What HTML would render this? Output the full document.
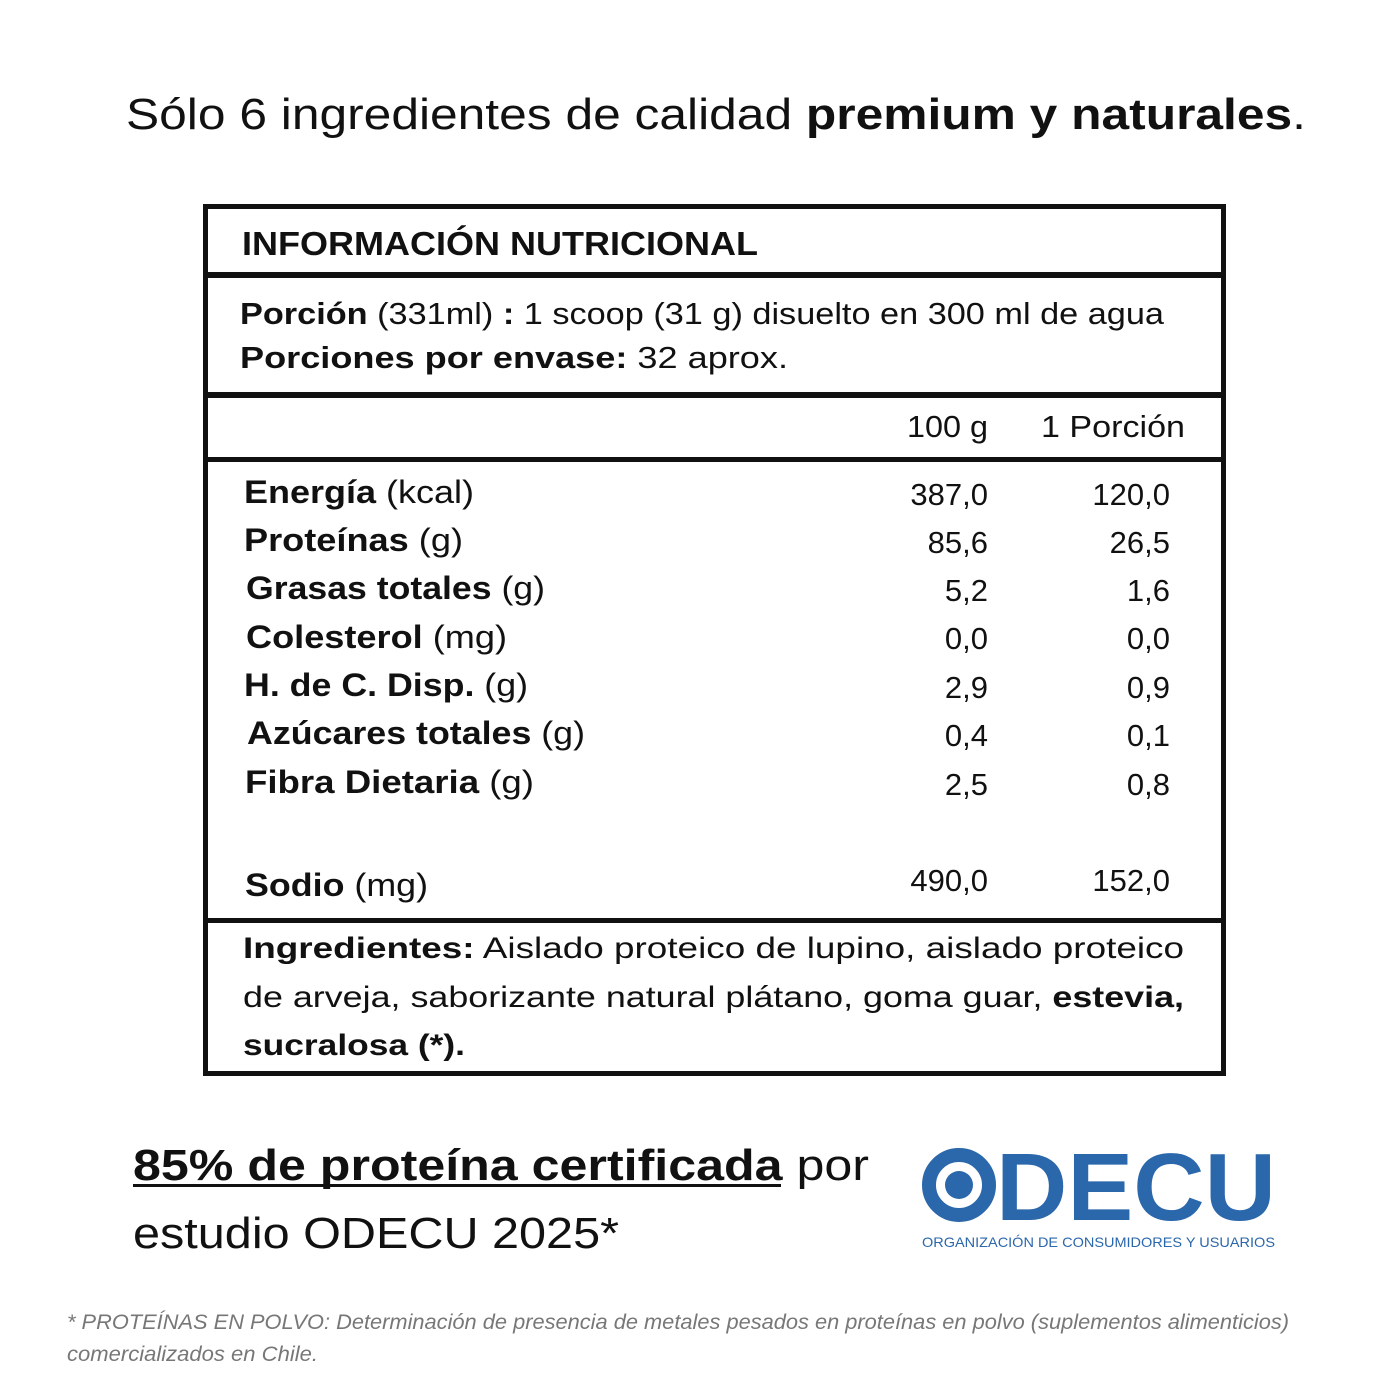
<!DOCTYPE html>
<html><head><meta charset="utf-8"><style>
html,body{margin:0;padding:0;background:#fff;}
svg{display:block}
text{font-family:"Liberation Sans",sans-serif;}
</style></head><body>
<svg width="1400" height="1400" viewBox="0 0 1400 1400" xmlns="http://www.w3.org/2000/svg">
<g fill="#111">
<text x="126" y="129" font-size="44" textLength="1180" lengthAdjust="spacingAndGlyphs">Sólo 6 ingredientes de calidad <tspan font-weight="bold">premium y naturales</tspan>.</text>

<rect x="203" y="204" width="1023" height="5"/>
<rect x="203" y="204" width="5" height="872"/>
<rect x="1221" y="204" width="5" height="872"/>
<rect x="203" y="1071" width="1023" height="5"/>
<rect x="203" y="272" width="1023" height="6"/>
<rect x="203" y="392" width="1023" height="6"/>
<rect x="203" y="457" width="1023" height="5"/>
<rect x="203" y="918" width="1023" height="5"/>

<text x="242" y="255" font-size="33" font-weight="bold" textLength="516" lengthAdjust="spacingAndGlyphs">INFORMACIÓN NUTRICIONAL</text>
<text x="240" y="324" font-size="31" textLength="924" lengthAdjust="spacingAndGlyphs"><tspan font-weight="bold">Porción</tspan> (331ml) <tspan font-weight="bold">:</tspan> 1 scoop (31 g) disuelto en 300 ml de agua</text>
<text x="240" y="368" font-size="31" textLength="548" lengthAdjust="spacingAndGlyphs"><tspan font-weight="bold">Porciones por envase:</tspan>  32 aprox.</text>
<text x="907" y="437" font-size="31" textLength="81" lengthAdjust="spacingAndGlyphs">100 g</text>
<text x="1041" y="437" font-size="31" textLength="144" lengthAdjust="spacingAndGlyphs">1 Porción</text>

<g font-size="32">
<text x="244" y="503" textLength="230" lengthAdjust="spacingAndGlyphs"><tspan font-weight="bold">Energía</tspan> (kcal)</text>
<text x="244" y="551" textLength="219" lengthAdjust="spacingAndGlyphs"><tspan font-weight="bold">Proteínas</tspan> (g)</text>
<text x="246" y="599" textLength="299" lengthAdjust="spacingAndGlyphs"><tspan font-weight="bold">Grasas totales</tspan> (g)</text>
<text x="246" y="648" textLength="261" lengthAdjust="spacingAndGlyphs"><tspan font-weight="bold">Colesterol</tspan> (mg)</text>
<text x="244" y="696" textLength="284" lengthAdjust="spacingAndGlyphs"><tspan font-weight="bold">H. de C. Disp.</tspan> (g)</text>
<text x="247" y="744" textLength="338" lengthAdjust="spacingAndGlyphs"><tspan font-weight="bold">Azúcares totales</tspan> (g)</text>
<text x="245" y="793" textLength="289" lengthAdjust="spacingAndGlyphs"><tspan font-weight="bold">Fibra Dietaria</tspan> (g)</text>
<text x="245" y="896" textLength="183" lengthAdjust="spacingAndGlyphs"><tspan font-weight="bold">Sodio</tspan> (mg)</text>
</g>
<g font-size="31" text-anchor="end">
<text x="988" y="505">387,0</text><text x="1170" y="505">120,0</text>
<text x="988" y="553">85,6</text><text x="1170" y="553">26,5</text>
<text x="988" y="601">5,2</text><text x="1170" y="601">1,6</text>
<text x="988" y="649">0,0</text><text x="1170" y="649">0,0</text>
<text x="988" y="698">2,9</text><text x="1170" y="698">0,9</text>
<text x="988" y="746">0,4</text><text x="1170" y="746">0,1</text>
<text x="988" y="795">2,5</text><text x="1170" y="795">0,8</text>
<text x="988" y="891">490,0</text><text x="1170" y="891">152,0</text>
</g>

<g font-size="30">
<text x="243" y="958" textLength="941" lengthAdjust="spacingAndGlyphs"><tspan font-weight="bold">Ingredientes:</tspan> Aislado proteico de lupino, aislado proteico</text>
<text x="243" y="1007" textLength="941" lengthAdjust="spacingAndGlyphs">de arveja, saborizante natural plátano, goma guar, <tspan font-weight="bold">estevia,</tspan></text>
<text x="243" y="1055" font-weight="bold" textLength="222" lengthAdjust="spacingAndGlyphs">sucralosa (*).</text>
</g>

<text x="133" y="1180" font-size="44" textLength="736" lengthAdjust="spacingAndGlyphs"><tspan font-weight="bold">85% de proteína certificada</tspan> por</text>
<rect x="133" y="1184" width="648" height="3"/>
<text x="133" y="1248" font-size="44" textLength="486" lengthAdjust="spacingAndGlyphs">estudio ODECU 2025*</text>
</g>

<g fill="#2b67ab">
<circle cx="959" cy="1185" r="30" fill="none" stroke="#2b67ab" stroke-width="14"/>
<circle cx="959" cy="1185" r="14"/>
<text x="996" y="1220" font-size="96" font-weight="bold" fill="#2b67ab" textLength="280" lengthAdjust="spacingAndGlyphs">DECU</text>
<text x="922" y="1247" font-size="14" fill="#2b67ab" textLength="353" lengthAdjust="spacingAndGlyphs">ORGANIZACIÓN DE CONSUMIDORES Y USUARIOS</text>
</g>

<g font-size="21" font-style="italic" fill="#777">
<text x="67" y="1329" textLength="1222" lengthAdjust="spacingAndGlyphs">* PROTEÍNAS EN POLVO: Determinación de presencia de metales pesados en proteínas en polvo (suplementos alimenticios)</text>
<text x="67" y="1361" textLength="251" lengthAdjust="spacingAndGlyphs">comercializados en Chile.</text>
</g>
</svg>
</body></html>
